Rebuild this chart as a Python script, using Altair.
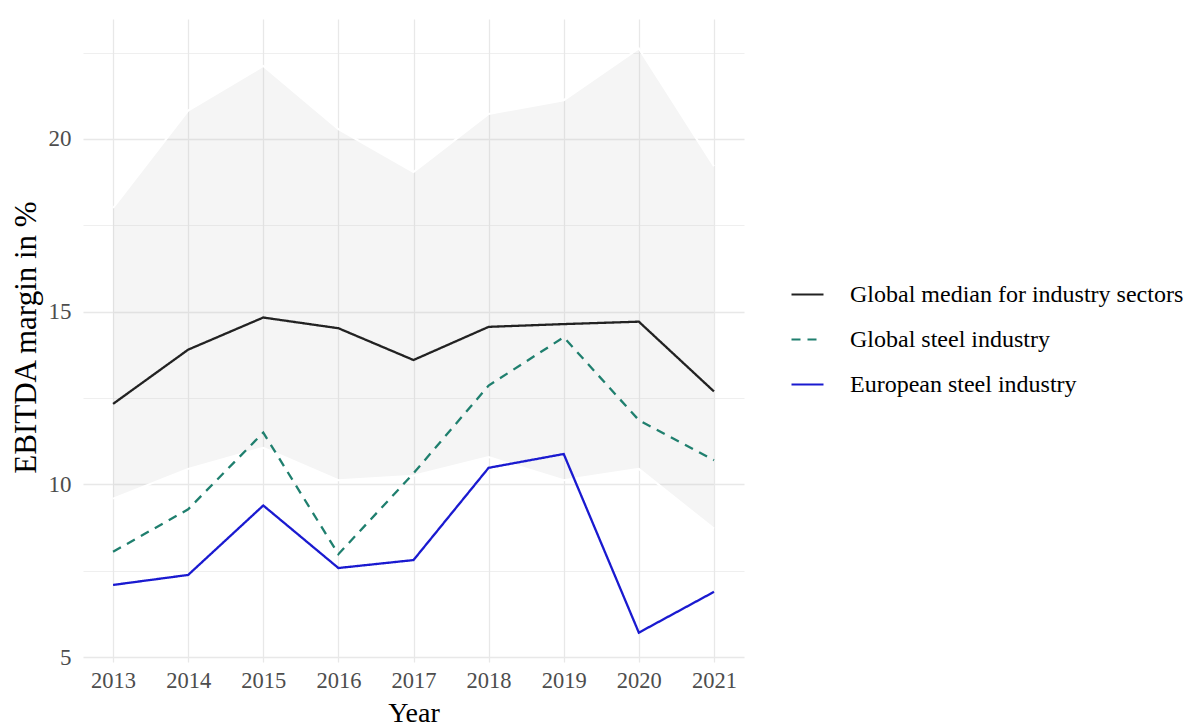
import altair as alt
import pandas as pd

years = [2013, 2014, 2015, 2016, 2017, 2018, 2019, 2020, 2021]
median_global = [12.33, 13.90, 14.83, 14.52, 13.60, 14.56, 14.64, 14.71, 12.69]
steel_global = [8.05, 9.28, 11.50, 7.98, 10.32, 12.86, 14.26, 11.86, 10.70]
steel_europe = [7.09, 7.38, 9.39, 7.58, 7.81, 10.48, 10.88, 5.71, 6.89]
band_upper = [18.00, 20.82, 22.11, 20.28, 19.04, 20.72, 21.12, 22.62, 19.21]
band_lower = [9.59, 10.45, 11.06, 10.12, 10.25, 10.79, 10.12, 10.45, 8.72]

series_names = ["Global median for industry sectors", "Global steel industry", "European steel industry"]
series_colors = ["#222222", "#1f7f6e", "#1a1ad0"]
series_dashes = [[1, 0], [9, 7], [1, 0]]

x_grid = [2013, 2013.5, 2014, 2014.5, 2015, 2015.5, 2016, 2016.5, 2017, 2017.5,
          2018, 2018.5, 2019, 2019.5, 2020, 2020.5, 2021]
y_grid = [5, 7.5, 10, 12.5, 15, 17.5, 20, 22.5]

FONT = "Liberation Serif"

band_df = pd.DataFrame({"year": years, "upper": band_upper, "lower": band_lower})
rows = []
for name, vals in zip(series_names, [median_global, steel_global, steel_europe]):
    for y, v in zip(years, vals):
        rows.append({"year": y, "value": v, "series": name})
lines_df = pd.DataFrame(rows)

xscale = alt.Scale(domain=[2012.6, 2021.4], nice=False, zero=False)
yscale = alt.Scale(domain=[4.86, 23.47], nice=False, zero=False)

xaxis = alt.Axis(
    values=x_grid, labelExpr="datum.value % 1 === 0 ? datum.value : ''",
    title="Year", grid=True, ticks=False, domain=False,
    gridColor="#e8e8e8",
    gridWidth={"condition": {"test": "datum.value % 1 === 0", "value": 1.3}, "value": 0.7},
    labelFont=FONT, labelFontSize=22.5, labelColor="#4d4d4d", labelPadding=7,
    titleFont=FONT, titleFontSize=28, titleFontWeight="normal", titleColor="#000000",
    titleY=59, titleBaseline="alphabetic", format="d",
)
yaxis = alt.Axis(
    values=y_grid, labelExpr="datum.value % 5 === 0 ? datum.value : ''",
    title="EBITDA margin in %", grid=True, ticks=False, domain=False,
    gridColor="#e8e8e8",
    gridWidth={"condition": {"test": "datum.value % 5 === 0", "value": 1.3}, "value": 0.7},
    labelFont=FONT, labelFontSize=23, labelColor="#4d4d4d", labelPadding=12,
    titleFont=FONT, titleFontSize=31, titleFontWeight="normal", titleColor="#000000",
    titleX=-48, titleY=318, titleAngle=270, titleAlign="center", titleBaseline="alphabetic",
)

band = alt.Chart(band_df).mark_area(
    color="#b0b0b0", opacity=0.13
).encode(
    x=alt.X("year:Q", scale=xscale, axis=xaxis),
    y=alt.Y("upper:Q", scale=yscale, axis=yaxis),
    y2="lower:Q",
)

band_edges_up = alt.Chart(band_df).mark_line(color="white", strokeWidth=2).encode(
    x=alt.X("year:Q", scale=xscale), y=alt.Y("upper:Q", scale=yscale)
)
band_edges_lo = alt.Chart(band_df).mark_line(color="white", strokeWidth=2).encode(
    x=alt.X("year:Q", scale=xscale), y=alt.Y("lower:Q", scale=yscale)
)

legend = alt.Legend(
    title=None, orient="none", legendX=707, legendY=258,
    symbolType="stroke", symbolSize=1024, symbolStrokeWidth=2.2,
    labelFont=FONT, labelFontSize=24, labelColor="#000000",
    labelOffset=25, rowPadding=15, padding=0, labelLimit=500,
)

lines = alt.Chart(lines_df).mark_line(strokeWidth=2.3).encode(
    x=alt.X("year:Q", scale=xscale),
    y=alt.Y("value:Q", scale=yscale),
    color=alt.Color("series:N", sort=series_names,
                    scale=alt.Scale(domain=series_names, range=series_colors),
                    legend=legend),
    strokeDash=alt.StrokeDash("series:N", sort=series_names,
                              scale=alt.Scale(domain=series_names, range=series_dashes),
                              legend=legend),
    detail="series:N",
)

chart = alt.layer(band, band_edges_up, band_edges_lo, lines).properties(
    width=661, height=643,
    background="white",
    autosize=alt.AutoSizeParams(type="none"),
    padding={"left": 75, "top": 11, "right": 448, "bottom": 66},
).configure_view(stroke=None)

chart.save("out.html", embed_options={"renderer": "svg", "actions": False})
